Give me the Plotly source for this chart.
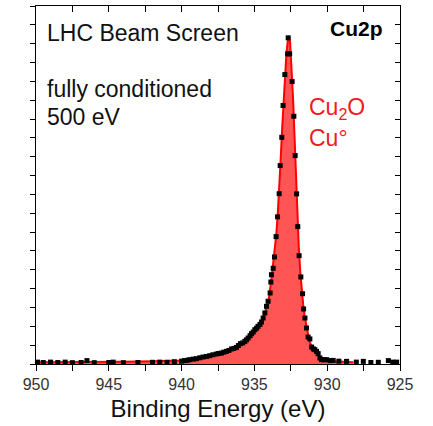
import plotly.graph_objects as go

# measured data points (binding energy in eV, intensity in arb. units)
data_e = [949.9, 949.5, 949.0, 948.5, 948.0, 947.5, 946.9, 946.5, 946.0, 945.0, 944.7, 944.0,
          943.0, 942.0, 941.5, 941.0, 940.5, 940.0, 939.8, 939.6, 939.44, 939.2, 938.98, 938.75,
          938.53, 938.3, 938.07, 937.85, 937.61, 937.45, 937.26, 937.1, 936.92, 936.75, 936.57,
          936.4, 936.23, 936.1, 935.96, 935.8, 935.66, 935.55, 935.43, 935.3, 935.2, 935.08,
          934.97, 934.85, 934.75, 934.62, 934.51, 934.4, 934.28, 934.17, 934.06, 933.92, 933.87,
          933.83, 933.71, 933.62, 933.51, 933.41, 933.30, 933.23, 933.12, 933.03, 932.91, 932.72,
          932.68, 932.58, 932.41, 932.29, 932.20, 932.10, 932.02, 931.93, 931.81, 931.69, 931.62,
          931.53, 931.42, 931.31, 931.19, 931.07, 930.95, 930.85, 930.73, 930.62, 930.50, 930.39,
          930.2, 930.04, 929.8, 929.59, 929.2, 928.67, 928.0, 927.52, 927.0, 926.49, 925.8,
          925.5, 925.23]
data_v = [0.10, 0.08, 0.10, 0.08, 0.10, 0.07, 0.08, 0.18, 0.07, 0.08, 0.10, 0.07,
          0.08, 0.09, 0.10, 0.09, 0.12, 0.15, 0.18, 0.20, 0.23, 0.26, 0.28, 0.33,
          0.37, 0.40, 0.44, 0.49, 0.53, 0.56, 0.58, 0.63, 0.67, 0.72, 0.80,
          0.83, 0.88, 0.98, 1.08, 1.12, 1.20, 1.28, 1.38, 1.50, 1.61, 1.70,
          1.82, 1.90, 2.00, 2.10, 2.23, 2.44, 2.71, 3.06, 3.33, 3.77, 4.35,
          4.74, 5.08, 5.68, 6.76, 7.81, 9.04, 10.53, 12.03, 13.72, 15.36, 16.46,
          17.31, 16.46, 14.99, 13.15, 11.06, 9.03, 7.29, 5.75, 4.62, 3.73, 2.92,
          2.44, 1.91, 1.43, 1.33, 0.90, 0.80, 0.76, 0.67, 0.55, 0.32, 0.23,
          0.22, 0.23, 0.18, 0.19, 0.15, 0.14, 0.10, 0.14, 0.08, 0.09, 0.18,
          0.10, 0.10]

# fitted envelope (Cu2O / Cu0 component)
fit_e = [950, 948, 946, 944, 942, 941, 940, 939.5, 939, 938.5, 938, 937.5, 937, 936.5, 936,
         935.5, 935, 934.75, 934.5, 934.25, 934, 933.8, 933.6, 933.5, 933.4, 933.3, 933.2,
         933.1, 933.0, 932.9, 932.8, 932.7, 932.62, 932.55, 932.45, 932.35, 932.25, 932.15,
         932.05, 931.95, 931.85, 931.75, 931.65, 931.55, 931.45, 931.35, 931.25, 931.1,
         930.95, 930.8, 930.6, 930.4, 930.2, 930.0, 929.5, 929.0, 928.2]
fit_v = [0.09, 0.09, 0.10, 0.12, 0.14, 0.16, 0.19, 0.23, 0.29, 0.37, 0.45, 0.54, 0.65, 0.80, 1.02,
         1.32, 1.78, 2.00, 2.28, 2.78, 3.50, 4.70, 6.00, 6.85, 7.90, 9.10, 10.8,
         12.4, 14.0, 15.4, 16.5, 17.2, 17.4, 17.1, 15.9, 14.2, 12.2, 10.0,
         8.0, 6.2, 4.9, 3.9, 3.15, 2.55, 2.05, 1.6, 1.3, 0.98,
         0.78, 0.62, 0.45, 0.30, 0.22, 0.18, 0.14, 0.11, 0.09]

x_ticks = [950, 945, 940, 935, 930, 925]
x_tick_labels = ["950", "945", "940", "935", "930", "925"]

fig = go.Figure()
fig.add_trace(go.Scatter(x=fit_e, y=fit_v, mode="lines", fill="tozeroy",
                         fillcolor="rgb(255,85,85)", line=dict(color="rgb(255,0,0)", width=2),
                         hoverinfo="skip", showlegend=False))
fig.add_trace(go.Scatter(x=data_e, y=data_v, mode="markers",
                         marker=dict(symbol="square", size=5, color="black", line=dict(width=0)),
                         showlegend=False))
# invisible trace to carry the mirrored (top/right) axes
fig.add_trace(go.Scatter(x=fit_e, y=fit_v, xaxis="x2", yaxis="y2", mode="lines",
                         line=dict(width=0), hoverinfo="skip", showlegend=False))

axis_line = dict(showline=True, linecolor="black", linewidth=1.3, showgrid=False, zeroline=False)
txt = "#111111"
red = "#ee1c1c"

fig.update_layout(
    width=433, height=426,
    margin=dict(l=36, r=33, t=6, b=62),
    paper_bgcolor="white", plot_bgcolor="white",
    font=dict(family="Liberation Sans, Arial, sans-serif", color=txt),
    xaxis=dict(range=[950, 925], tickvals=x_ticks, ticktext=x_tick_labels,
               ticks="outside", ticklen=6, tickwidth=1.2, tickcolor="black",
               tickfont=dict(size=16, color="#333333"),
               minor=dict(dtick=2.5, ticks="outside", ticklen=6, tickwidth=1.2, tickcolor="black"),
               title=dict(text="Binding Energy (eV)", font=dict(size=24, color=txt), standoff=7),
               **axis_line),
    yaxis=dict(range=[0, 19], dtick=1, ticks="outside", ticklen=5, tickwidth=1.2,
               tickcolor="black", showticklabels=False, **axis_line),
    xaxis2=dict(range=[950, 925], overlaying="x", side="top", dtick=2.5, tick0=925,
                ticks="inside", ticklen=6, tickwidth=1.2, tickcolor="black",
                showticklabels=False, **axis_line),
    yaxis2=dict(range=[0, 19], overlaying="y", side="right", dtick=1, ticks="inside",
                ticklen=5, tickwidth=1.2, tickcolor="black", showticklabels=False, **axis_line),
    annotations=[
        dict(text="LHC Beam Screen", x=0.0247, y=0.924, xref="paper", yref="paper",
             xanchor="left", yanchor="middle", showarrow=False,
             font=dict(size=23, color=txt)),
        dict(text="fully conditioned", x=0.0247, y=0.767, xref="paper", yref="paper",
             xanchor="left", yanchor="middle", showarrow=False,
             font=dict(size=23, color=txt)),
        dict(text="500 eV", x=0.0247, y=0.691, xref="paper", yref="paper",
             xanchor="left", yanchor="middle", showarrow=False,
             font=dict(size=23, color=txt)),
        dict(text="<b>Cu2p</b>", x=0.9588, y=0.9385, xref="paper", yref="paper",
             xanchor="right", yanchor="middle", showarrow=False,
             font=dict(size=21, color="black")),
        dict(text="Cu<sub>2</sub>O", x=0.7437, y=0.713, xref="paper", yref="paper",
             xanchor="left", yanchor="middle", showarrow=False,
             font=dict(size=23, color=red)),
        dict(text="Cu°", x=0.7437, y=0.631, xref="paper", yref="paper",
             xanchor="left", yanchor="middle", showarrow=False,
             font=dict(size=23, color=red)),
    ],
)

fig.write_html("out.html")
